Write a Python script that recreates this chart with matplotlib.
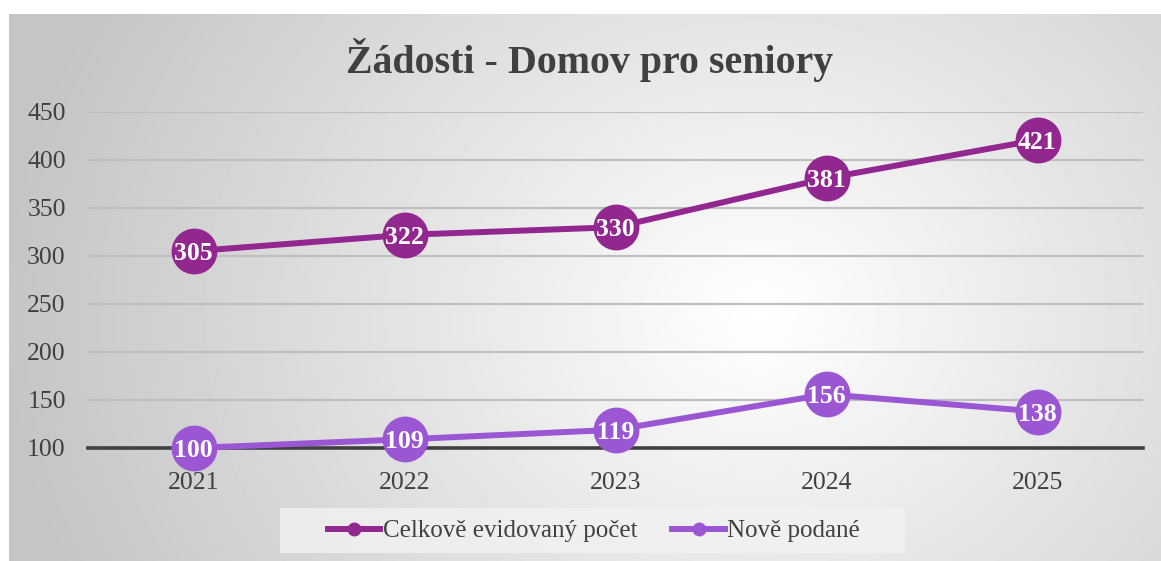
import matplotlib.pyplot as plt
import numpy as np
from matplotlib.lines import Line2D
from matplotlib.patches import Rectangle

years = ['2021', '2022', '2023', '2024', '2025']
celkem = [305, 322, 330, 381, 421]
nove = [100, 109, 119, 156, 138]
yticks = [100, 150, 200, 250, 300, 350, 400, 450]

plt.rcParams['font.family'] = ['Liberation Serif', 'DejaVu Serif']

W, H = 1161, 561
fig = plt.figure(figsize=(W / 100, H / 100), dpi=100)

# radial gradient background of the chart area
bg = fig.add_axes([9 / W, 0, 1 - 9 / W, (H - 14) / H])
yy, xx = np.mgrid[0:547, 0:1152]
cx, cy = 750, 300
r = np.sqrt((xx - cx) ** 2 + ((yy - cy) / 0.85) ** 2)
r = np.clip(r / 760, 0, 1)
val = 1.0 - 0.23 * r
bg.imshow(val, cmap='gray', vmin=0, vmax=1, aspect='auto', interpolation='bilinear')
bg.set_axis_off()

ax = fig.add_axes([88 / W, (H - 448) / H, (1143 - 88) / W, (448 - 112) / H])
ax.set_facecolor('none')
x = np.arange(len(years))

ax.set_xlim(-0.5, 4.5)
ax.set_ylim(100, 450)
ax.set_yticks(yticks)
ax.set_xticks(x)
ax.set_xticklabels(years)
ax.yaxis.grid(True, color='#bfbfbf', linewidth=1.6)
ax.set_axisbelow(True)
for s in ['top', 'right', 'left']:
    ax.spines[s].set_visible(False)
ax.spines['bottom'].set_color('#404040')
ax.spines['bottom'].set_linewidth(2.6)
ax.spines['bottom'].set_zorder(2)
ax.tick_params(axis='both', length=0, labelsize=18.5, colors='#404040')
ax.tick_params(axis='y', pad=16)
ax.tick_params(axis='x', pad=17)

c1 = '#92278F'
c2 = '#9B57D3'
ax.plot(x, celkem, color=c1, lw=4.3, marker='o', ms=32, zorder=3, clip_on=False)
ax.plot(x, nove, color=c2, lw=4.3, marker='o', ms=32, zorder=3, clip_on=False)

for xi, v in zip(x, celkem):
    ax.text(xi, v, str(v), ha='center', va='center_baseline', color='white',
            fontsize=18.5, fontweight='bold', zorder=4)
for xi, v in zip(x, nove):
    ax.text(xi, v, str(v), ha='center', va='center_baseline', color='white',
            fontsize=18.5, fontweight='bold', zorder=4)

fig.text(590 / W, 1 - 60 / H, 'Žádosti - Domov pro seniory', ha='center', va='center',
         fontsize=28.7, fontweight='bold', color='#404040')

# legend box
fig.patches.append(Rectangle((280 / W, 1 - 553 / H), 625 / W, 45 / H,
                             transform=fig.transFigure, facecolor='#f2f2f2',
                             edgecolor='none', alpha=0.8, zorder=0))
handles = [Line2D([], [], color=c1, lw=4.3, marker='o', ms=9),
           Line2D([], [], color=c2, lw=4.3, marker='o', ms=9)]
leg = fig.legend(handles, ['Celkově evidovaný počet', 'Nově podané'],
                 loc='center', bbox_to_anchor=(594 / W, 1 - 531 / H), ncol=2,
                 fontsize=18, frameon=False, handlelength=2.1,
                 handletextpad=0.1, columnspacing=1.4, borderpad=0.3,
                 borderaxespad=0)
for t in leg.get_texts():
    t.set_color('#404040')

fig.savefig('out.png', dpi=100)
